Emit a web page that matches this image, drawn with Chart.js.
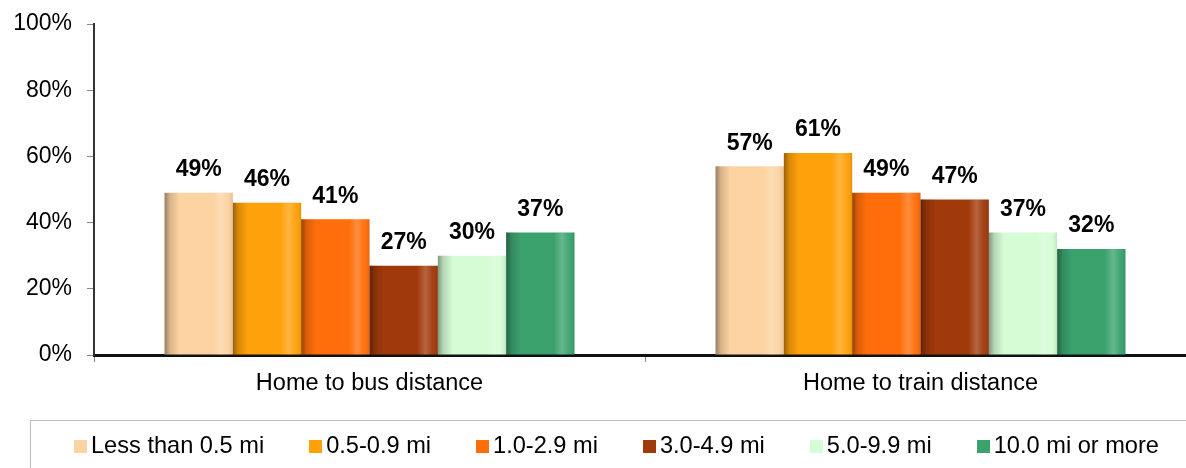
<!DOCTYPE html>
<html>
<head>
<meta charset="utf-8">
<script src="https://cdn.jsdelivr.net/npm/chart.js@4/dist/chart.umd.min.js"></script>
<style>
  html, body { margin:0; padding:0; background:#fff; overflow:hidden; }
  .wrap { position:relative; width:1200px; height:468px; }
  #legend {
    position:absolute; left:30px; top:420px; right:0; bottom:0;
    border-top:1.5px solid #BDBDBD; border-left:1.5px solid #BDBDBD;
    font-family:'Liberation Sans', Arial, sans-serif; font-size:23.6px; color:#000;
  }
  #legend ul { list-style:none; margin:0; padding:0; position:absolute; left:43px; top:9px; display:flex; white-space:nowrap; }
  #legend li { display:flex; align-items:center; margin-right:45px; line-height:30px; }
  #legend .sw { width:13px; height:13px; margin-right:4px; margin-top:2px; }
</style>
</head>
<body>
<div class="wrap">
  <canvas id="distChart"></canvas>
  <div id="legend"></div>
</div>
<script>
/* ════════════════════════════
   DATA
════════════════════════════ */
const CATEGORIES   = ['Home to bus distance', 'Home to train distance'];
const BANDS        = ['Less than 0.5 mi', '0.5-0.9 mi', '1.0-2.9 mi', '3.0-4.9 mi', '5.0-9.9 mi', '10.0 mi or more'];
const BUS_VALUES   = [49, 46, 41, 27, 30, 37];
const TRAIN_VALUES = [57, 61, 49, 47, 37, 32];
const Y_TICKS      = [0, 20, 40, 60, 80, 100];

const BAND_COLORS  = ['#FDD3A2', '#FFA10A', '#FF6E0A', '#A13A0B', '#D5FCD5', '#3BA26E'];
const FONT = "'Liberation Sans', Arial, sans-serif";

/* ════════════════════════════
   PLUGINS
════════════════════════════ */
// cylinder-ish shading over each bar, like the old Excel 3D look
const barShade = {
  id: 'barShade',
  afterDatasetsDraw(chart) {
    const ctx = chart.ctx;
    chart.data.datasets.forEach((ds, i) => {
      chart.getDatasetMeta(i).data.forEach(bar => {
        const l = bar.x - bar.width / 2, r = bar.x + bar.width / 2;
        const g = ctx.createLinearGradient(l, 0, r, 0);
        g.addColorStop(0,    'rgba(0,0,0,0.40)');
        g.addColorStop(0.08, 'rgba(0,0,0,0.15)');
        g.addColorStop(0.22, 'rgba(0,0,0,0)');
        g.addColorStop(0.70, 'rgba(255,255,255,0)');
        g.addColorStop(0.82, 'rgba(255,255,255,0.22)');
        g.addColorStop(0.92, 'rgba(255,255,255,0.04)');
        g.addColorStop(1,    'rgba(0,0,0,0.10)');
        ctx.save();
        ctx.fillStyle = g;
        ctx.fillRect(l, bar.y, bar.width, bar.base - bar.y);
        ctx.restore();
      });
    });
  }
};

const valueLabels = {
  id: 'valueLabels',
  afterDatasetsDraw(chart) {
    const ctx = chart.ctx;
    ctx.save();
    ctx.font = 'bold 23px ' + FONT;
    ctx.fillStyle = '#000';
    ctx.textAlign = 'center';
    ctx.textBaseline = 'middle';
    chart.data.datasets.forEach((ds, i) => {
      chart.getDatasetMeta(i).data.forEach((bar, j) => {
        ctx.fillText(ds.data[j] + '%', bar.x, bar.y - 23);
      });
    });
    ctx.restore();
  }
};

/* ════════════════════════════
   CHART
════════════════════════════ */
const datasets = BANDS.map((name, i) => ({
  label: name,
  data: [BUS_VALUES[i], TRAIN_VALUES[i]],
  backgroundColor: BAND_COLORS[i],
  borderWidth: 0,
  categoryPercentage: 0.744,
  barPercentage: 1,
}));

const chart = new Chart(document.getElementById('distChart'), {
  type: 'bar',
  data: { labels: CATEGORIES, datasets },
  options: {
    responsive: true, maintainAspectRatio: false,
    animation: false,
    layout: { padding: { left: 13, right: 4, top: 24, bottom: 71 } },
    plugins: {
      tooltip: { enabled: false },
      legend: { display: false }
    },
    scales: {
      x: {
        grid: { drawOnChartArea: false, drawTicks: true, tickLength: 7, color: '#888', offset: true },
        border: { color: '#111', width: 3 },
        ticks: { color: '#000', font: { size: 23.5, family: FONT }, padding: 7, maxRotation: 0 },
        afterFit(s) { s.height = 42; }
      },
      y: {
        min: 0, max: 100,
        afterBuildTicks(s) { s.ticks = Y_TICKS.map(v => ({ value: v })); },
        grid: { drawOnChartArea: false, drawTicks: true, tickLength: 7, color: '#888' },
        border: { color: '#333', width: 2 },
        ticks: { color: '#000', font: { size: 23, family: FONT }, padding: 15, callback: v => v + '%' },
        afterFit(s) { s.width = 81; s.paddingTop = 0; s.paddingBottom = 0; }
      }
    }
  },
  plugins: [barShade, valueLabels]
});

/* ════════════════════════════
   LEGEND (html, built from the chart's own legend items)
════════════════════════════ */
const items = Chart.defaults.plugins.legend.labels.generateLabels(chart);
document.getElementById('legend').innerHTML = '<ul>' + items.map(it => `
  <li><span class="sw" style="background:${it.fillStyle}"></span>${it.text}</li>`).join('') + '</ul>';
</script>
</body>
</html>
